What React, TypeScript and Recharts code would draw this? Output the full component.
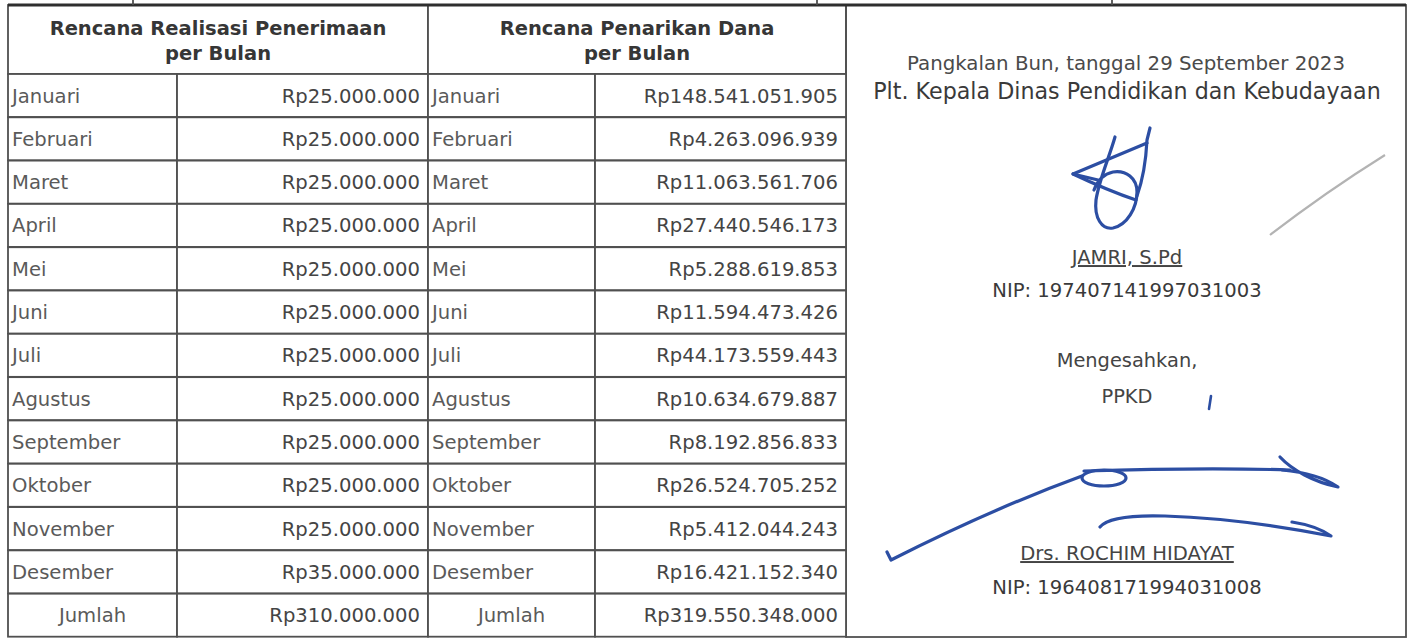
import React from 'react';
import { BarChart, Bar, XAxis, YAxis, Customized } from 'recharts';

document.body.style.margin = '0';

const BULAN = [
  'Januari',
  'Februari',
  'Maret',
  'April',
  'Mei',
  'Juni',
  'Juli',
  'Agustus',
  'September',
  'Oktober',
  'November',
  'Desember',
];

const PENERIMAAN = [
  25000000, 25000000, 25000000, 25000000, 25000000, 25000000,
  25000000, 25000000, 25000000, 25000000, 25000000, 35000000,
];

const PENARIKAN = [
  148541051905, 4263096939, 11063561706, 27440546173, 5288619853, 11594473426,
  44173559443, 10634679887, 8192856833, 26524705252, 5412044243, 16421152340,
];

const HEADERS = [
  ['Rencana Realisasi Penerimaan', 'per Bulan'],
  ['Rencana Penarikan Dana', 'per Bulan'],
];

const TOTAL_LABEL = 'Jumlah';

const sum = (a: number[]) => a.reduce((s, v) => s + v, 0);

const rows = [
  ...BULAN.map((bulan, i) => ({ bulan, terima: PENERIMAAN[i], tarik: PENARIKAN[i] })),
  { bulan: TOTAL_LABEL, terima: sum(PENERIMAAN), tarik: sum(PENARIKAN) },
];

const fmt = (n: number) => 'Rp' + String(n).replace(/\B(?=(\d{3})+(?!\d))/g, '.');

const FONT = 'DejaVu Sans';
const LINE = '#505050';
const TEXT = '#444';
const INK = '#2c4ea3';

// column split of the table, as share of its width
const COL_FRAC = [0, 0.2017, 0.5012, 0.7005, 1];

function RowShape(props: any) {
  const { x, y, width, height, payload } = props;
  const xs = COL_FRAC.map((f) => x + f * width);
  const cy = y + height / 2;
  const isTotal = payload.bulan === TOTAL_LABEL;
  const cells = [
    { text: payload.bulan, kind: 'name' },
    { text: fmt(payload.terima), kind: 'value' },
    { text: payload.bulan, kind: 'name' },
    { text: fmt(payload.tarik), kind: 'value' },
  ];
  return (
    <g>
      {cells.map((c, i) => {
        const x0 = xs[i];
        const x1 = xs[i + 1];
        let tx = x0 + 4;
        let anchor: 'start' | 'middle' | 'end' = 'start';
        if (c.kind === 'value') {
          tx = x1 - 8;
          anchor = 'end';
        } else if (isTotal) {
          tx = (x0 + x1) / 2;
          anchor = 'middle';
        }
        return (
          <g key={i}>
            <rect x={x0} y={y} width={x1 - x0} height={height} fill="#fff" stroke={LINE} strokeWidth={1.8} />
            <text
              x={tx}
              y={cy}
              dy="0.36em"
              textAnchor={anchor}
              fontFamily={FONT}
              fontSize={19.6}
              fill={c.kind === 'value' ? TEXT : '#5a5a5a'}
            >
              {c.text}
            </text>
          </g>
        );
      })}
    </g>
  );
}

function Decor() {
  const textProps = { fontFamily: FONT, textAnchor: 'middle' as const };
  return (
    <g>
      {/* header cells */}
      <rect x={8} y={5} width={420} height={69} fill="#fff" stroke={LINE} strokeWidth={1.8} />
      <rect x={428} y={5} width={418} height={69} fill="#fff" stroke={LINE} strokeWidth={1.8} />
      {HEADERS.map((h, i) => {
        const cx = i === 0 ? 218 : 637;
        return (
          <g key={i}>
            <text x={cx} y={28} dy="0.36em" {...textProps} fontSize={19.5} fontWeight="bold" fill="#363636">
              {h[0]}
            </text>
            <text x={cx} y={53} dy="0.36em" {...textProps} fontSize={19.5} fontWeight="bold" fill="#363636">
              {h[1]}
            </text>
          </g>
        );
      })}

      {/* signature panel */}
      <rect x={846} y={5} width={560} height={632} fill="none" stroke={LINE} strokeWidth={1.8} />
      <line x1={8} y1={5} x2={1406} y2={5} stroke="#2e2e2e" strokeWidth={3} />
      <line x1={133} y1={0} x2={133} y2={5} stroke={LINE} strokeWidth={1.8} />
      <line x1={817} y1={0} x2={817} y2={5} stroke={LINE} strokeWidth={1.8} />
      <line x1={1112} y1={0} x2={1112} y2={5} stroke={LINE} strokeWidth={1.8} />

      <text x={1126} y={63} dy="0.36em" {...textProps} fontSize={19.8} fill="#4a4a4a">
        Pangkalan Bun, tanggal 29 September 2023
      </text>
      <text x={1127} y={91} dy="0.36em" {...textProps} fontSize={22.2} fill="#3a3a3a">
        Plt. Kepala Dinas Pendidikan dan Kebudayaan
      </text>

      <g fill="none" stroke={INK} strokeWidth={3.2} strokeLinecap="round" strokeLinejoin="round">
        <path d="M1115,137 C1109,158 1099,180 1096,200 C1094,218 1102,230 1113,228 C1127,225 1137,208 1137,192 C1137,178 1126,170 1113,172 C1103,174 1097,182 1094,190" />
        <path d="M1150,128 L1147,140 C1146,160 1142,182 1137,196" />
        <path d="M1147,143 C1125,152 1095,165 1073,174 C1092,183 1115,193 1136,200" />
        <path d="M1073,174 L1098,180" />
      </g>
      <path d="M1270,235 C1305,208 1345,180 1385,155" fill="none" stroke="#a0a0a0" strokeWidth={2.2} opacity={0.8} />

      <text x={1127} y={257} dy="0.36em" {...textProps} fontSize={19.6} fill="#444" textDecoration="underline">
        JAMRI, S.Pd
      </text>
      <text x={1127} y={290} dy="0.36em" {...textProps} fontSize={19.6} fill="#3a3a3a">
        NIP: 197407141997031003
      </text>
      <text x={1127} y={360} dy="0.36em" {...textProps} fontSize={19.4} fill="#444">
        Mengesahkan,
      </text>
      <text x={1127} y={396} dy="0.36em" {...textProps} fontSize={19.4} fill="#444">
        PPKD
      </text>
      <path d="M1211,396 L1209,409" fill="none" stroke={INK} strokeWidth={2.6} strokeLinecap="round" />

      <g fill="none" stroke={INK} strokeWidth={3.2} strokeLinecap="round" strokeLinejoin="round">
        <path d="M887,552 L891,560 C960,525 1030,495 1082,476" />
        <ellipse cx={1104} cy={478} rx={22} ry={8} />
        <path d="M1084,471 C1150,469 1230,468 1290,470" />
        <path d="M1280,457 C1292,470 1314,482 1338,487 C1325,478 1305,472 1282,470" />
        <path d="M1100,527 C1108,517 1133,515 1165,516 C1230,518 1290,528 1331,536 C1320,528 1305,524 1292,522" />
      </g>

      <text x={1127} y={553} dy="0.36em" {...textProps} fontSize={19.6} fill="#444" textDecoration="underline">
        Drs. ROCHIM HIDAYAT
      </text>
      <text x={1127} y={587} dy="0.36em" {...textProps} fontSize={19.6} fill="#3a3a3a">
        NIP: 196408171994031008
      </text>
    </g>
  );
}

export default function App() {
  return (
    <div style={{ width: 1413, height: 639, background: '#fff' }}>
      <BarChart
        layout="vertical"
        width={1413}
        height={639}
        data={rows}
        margin={{ top: 74, right: 567, bottom: 2, left: 8 }}
        barCategoryGap={0}
      >
        <Customized component={<Decor />} />
        <XAxis type="number" domain={[0, 1]} hide />
        <YAxis type="category" dataKey="bulan" hide />
        <Bar
          dataKey={() => 1}
          isAnimationActive={false}
          shape={(p: any) => <RowShape {...p} />}
        />
      </BarChart>
    </div>
  );
}
